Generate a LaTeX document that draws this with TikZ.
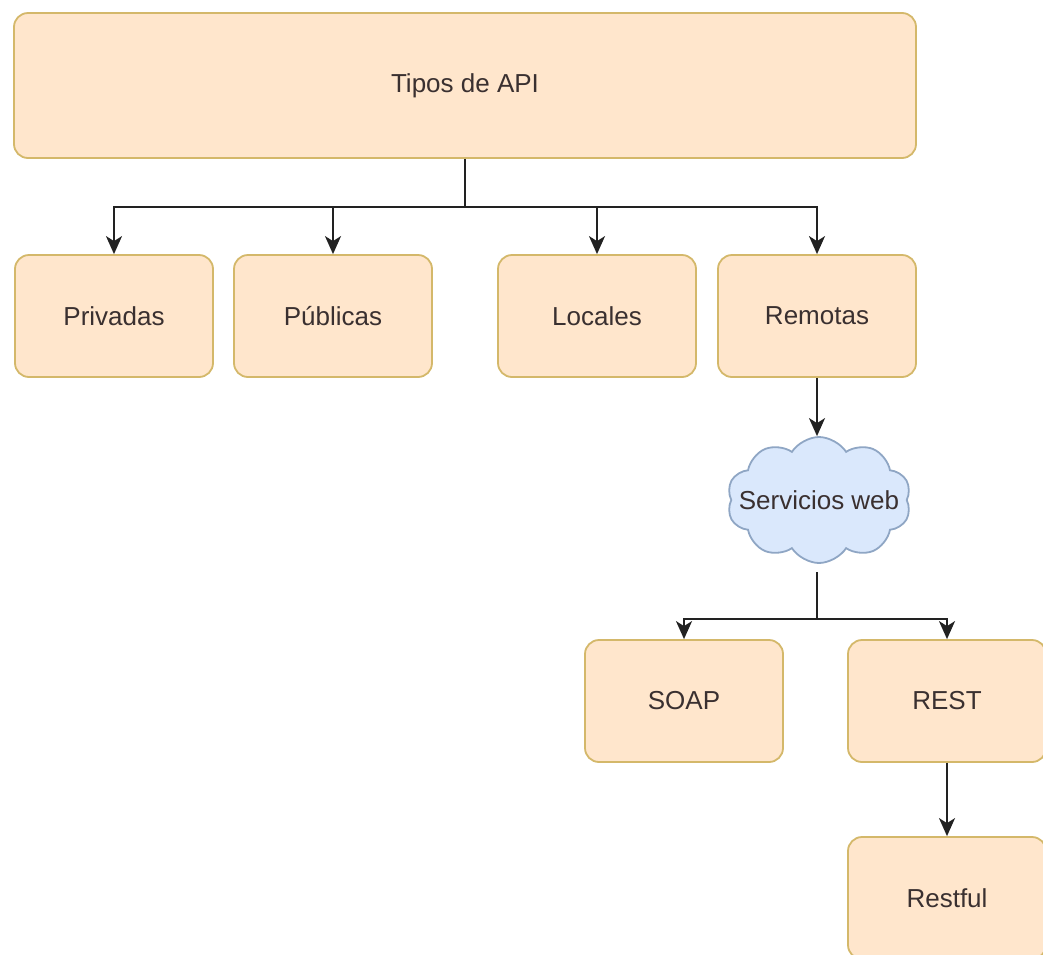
\documentclass[tikz,border=0pt]{standalone}
\usepackage{fontspec}
\setmainfont{Liberation Sans}
\usetikzlibrary{arrows.meta,shapes.symbols}
\definecolor{boxfill}{HTML}{FFE6CC}
\definecolor{boxline}{HTML}{D4B86A}
\definecolor{cloudfill}{HTML}{DAE8FC}
\definecolor{cloudline}{HTML}{8FA6C4}
\definecolor{txt}{HTML}{3A3030}
\definecolor{conn}{HTML}{222222}
\tikzset{
  apibox/.style={draw=boxline, fill=boxfill, line width=1.8pt, rounded corners=14pt,
    text=txt, font=\fontsize{26}{30}\selectfont, inner sep=0pt},
  wcloud/.style={cloud, cloud puffs=10, cloud puff arc=115, aspect=1.5, draw=cloudline,
    fill=cloudfill, line width=1.8pt, text=txt, font=\fontsize{26}{30}\selectfont,
    inner sep=0pt, minimum width=184pt, minimum height=126pt},
  conline/.style={draw=conn, line width=2pt},
  conarrow/.style={conline, -{Stealth[length=18pt,width=16pt,inset=5pt]}}
}
\begin{document}
\begin{tikzpicture}[x=1pt,y=-1pt]
\useasboundingbox (0,0) rectangle (1043,954);
\node[apibox, minimum width=902pt, minimum height=145pt] (api) at (465,85.5) {Tipos de API};
\node[apibox, minimum width=198pt, minimum height=122pt] (priv) at (114,316) {Privadas};
\node[apibox, minimum width=198pt, minimum height=122pt] (pub) at (333,316) {Públicas};
\node[apibox, minimum width=198pt, minimum height=122pt] (loc) at (597,316) {Locales};
\node[apibox, minimum width=198pt, minimum height=122pt] (rem) at (817,316) {Remotas};
\node[wcloud] (web) at (819,500) {\makebox[0pt]{Servicios web}};
\node[apibox, minimum width=198pt, minimum height=122pt] (soap) at (684,701) {SOAP};
\node[apibox, minimum width=198pt, minimum height=122pt] (rest) at (947,701) {REST};
\node[apibox, minimum width=198pt, minimum height=122pt] (rful) at (947,898) {Restful};
\coordinate (j1) at (465,207);
\coordinate (j2) at (817,619);
\draw[conline] (api.south) -- (j1);
\draw[conarrow] (j1) -| (priv.north);
\draw[conarrow] (j1) -| (pub.north);
\draw[conarrow] (j1) -| (loc.north);
\draw[conarrow] (j1) -| (rem.north);
\draw[conarrow] (rem.south) -- (rem.south |- web.north);
\draw[conline] (j2 |- 572,572) -- (j2);
\draw[conarrow] (j2) -| (soap.north);
\draw[conarrow] (j2) -| (rest.north);
\draw[conarrow] (rest.south) -- (rful.north);
\end{tikzpicture}
\end{document}
